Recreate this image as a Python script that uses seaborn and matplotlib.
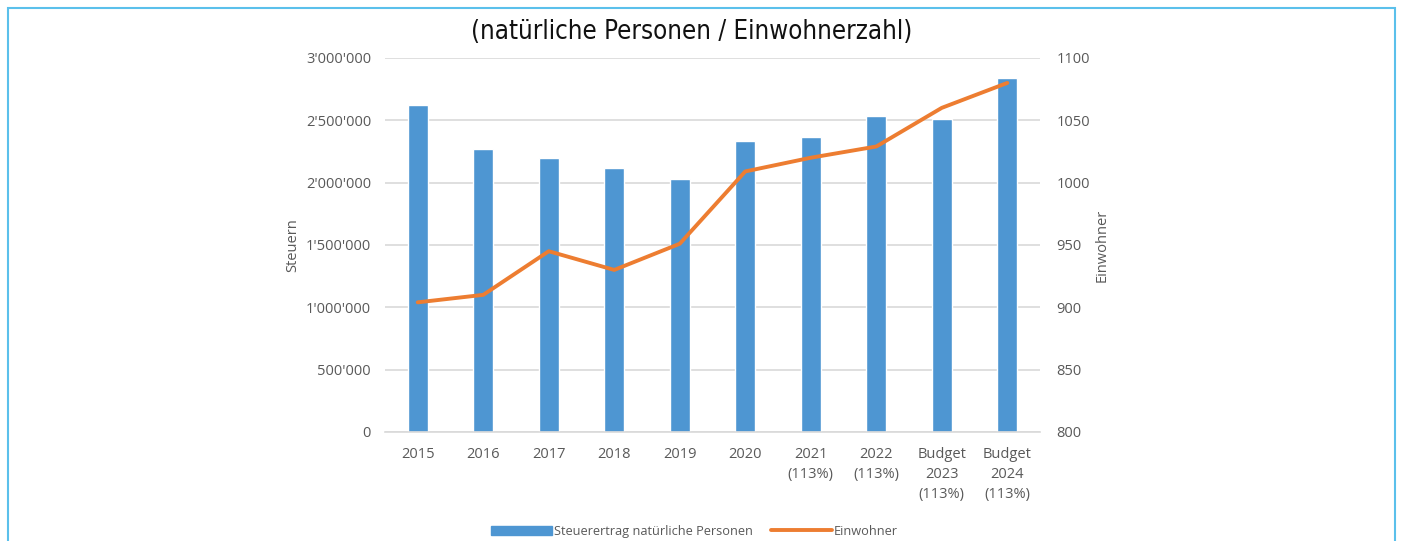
import numpy as np
import pandas as pd
import matplotlib
matplotlib.use("Agg")
import matplotlib.pyplot as plt
import matplotlib.patches as mpatches
from matplotlib.lines import Line2D
from matplotlib.ticker import FuncFormatter, MultipleLocator
import seaborn as sns

# Data
labels = ["2015", "2016", "2017", "2018", "2019", "2020",
          "2021\n(113%)", "2022\n(113%)", "Budget\n2023\n(113%)", "Budget\n2024\n(113%)"]
steuern = [2625000, 2272000, 2198000, 2118000, 2028000, 2334000,
           2368000, 2537000, 2512000, 2842000]
einwohner = [904, 910, 945, 930, 951, 1009, 1020, 1029, 1060, 1080]

BAR_COLOR = "#4E96D2"
LINE_COLOR = "#ED7D31"
TEXT_COLOR = "#595959"
GRID_COLOR = "#D9D9D9"

df = pd.DataFrame({"label": labels, "steuern": steuern, "einwohner": einwohner})

sns.set_theme(style="white")
plt.rcParams["font.family"] = ["Open Sans", "DejaVu Sans"]

fig = plt.figure(figsize=(14.03, 5.41), dpi=100)
ax = fig.add_axes([0.2744, 0.2015, 0.4669, 0.6913])

sns.barplot(data=df, x="label", y="steuern", color=BAR_COLOR, width=0.31,
            saturation=1, ax=ax, zorder=2)
ax.set_ylim(0, 3000000)
ax.yaxis.set_major_locator(MultipleLocator(500000))
ax.yaxis.set_major_formatter(FuncFormatter(lambda v, p: f"{int(v):,}".replace(",", "'")))
ax.grid(axis="y", color=GRID_COLOR, linewidth=1.2, zorder=0)
ax.set_axisbelow(True)
for s in ["top", "right", "left"]:
    ax.spines[s].set_visible(False)
ax.spines["bottom"].set_color(GRID_COLOR)
ax.spines["bottom"].set_linewidth(1.2)
ax.tick_params(axis="both", length=0, colors=TEXT_COLOR, labelsize=10.5)
ax.tick_params(axis="y", pad=10)
ax.tick_params(axis="x", pad=11)
for t in ax.get_xticklabels():
    t.set_linespacing(1.45)
ax.set_xlabel("")
ax.set_ylabel("Steuern", color=TEXT_COLOR, fontsize=10.5, labelpad=4)
ax.set_xlim(-0.5, len(labels) - 0.5)

ax2 = ax.twinx()
sns.lineplot(x=df.index, y=df["einwohner"], color=LINE_COLOR, linewidth=2.8,
             ax=ax2, zorder=3)
ax2.set_ylim(800, 1100)
ax2.yaxis.set_major_locator(MultipleLocator(50))
for s in ["top", "right", "left", "bottom"]:
    ax2.spines[s].set_visible(False)
ax2.tick_params(axis="y", length=0, colors=TEXT_COLOR, labelsize=10.5, pad=12)
ax2.set_ylabel("Einwohner", color=TEXT_COLOR, fontsize=10.5, labelpad=3)
ax2.grid(False)

fig.text(0.493, 0.94, "(natürliche Personen / Einwohnerzahl)", ha="center", va="center",
         fontsize=18.5, color="#111111", family="DejaVu Sans", fontstretch="condensed")

handles = [mpatches.Patch(color=BAR_COLOR, label="Steuerertrag natürliche Personen"),
           Line2D([0], [0], color=LINE_COLOR, linewidth=2.8, label="Einwohner")]
leg = fig.legend(handles=handles, loc="center", bbox_to_anchor=(0.495, 0.018), ncol=2,
                 frameon=False, fontsize=9.2, handlelength=4.8, handleheight=0.7,
                 handletextpad=0.15, columnspacing=1.4)
for t in leg.get_texts():
    t.set_color(TEXT_COLOR)

# light blue frame around the figure
fig.add_artist(mpatches.Rectangle((0.006, -0.05), 0.988, 1.035, transform=fig.transFigure,
                                  fill=False, edgecolor="#5BC0EB", linewidth=1.5))

fig.savefig("out.png", dpi=100, facecolor="white")
